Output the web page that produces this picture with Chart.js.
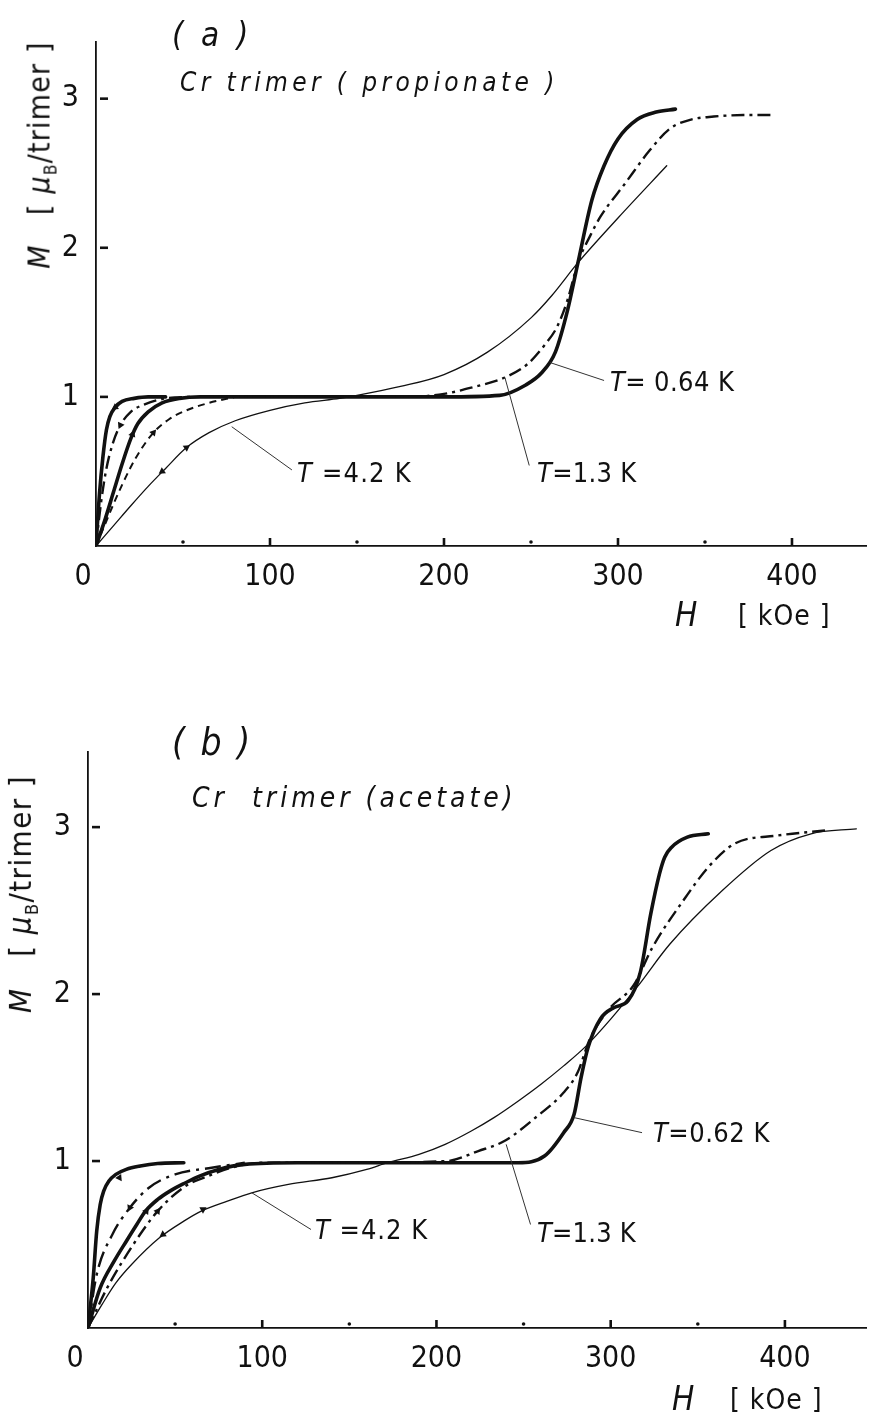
<!DOCTYPE html>
<html>
<head>
<meta charset="utf-8">
<script src="https://cdn.jsdelivr.net/npm/chart.js@4.4.1/dist/chart.umd.min.js"></script>
<style>
  body { margin: 0; background: #fff; }
  #page { position: relative; width: 871px; height: 1419px; overflow: hidden; color: #111;
          font-family: "Liberation Sans Narrow", "DejaVu Sans Condensed", sans-serif; }
  canvas { position: absolute; left: 0; }
  .lbl { position: absolute; white-space: nowrap; line-height: 1; }
  .it { font-style: italic; }
  .ytitle { position: absolute; white-space: nowrap; line-height: 1; transform: translate(-50%, -50%) rotate(-90deg); }
</style>
</head>
<body>
<div id="page">
  <canvas id="chartA" width="871" height="700" style="top:0"></canvas>
  <canvas id="chartB" width="871" height="719" style="top:700px"></canvas>

  <!-- panel (a) text -->
  <div class="lbl it" style="left:172px;top:18px;font-size:33px;letter-spacing:4px">( a )</div>
  <div class="lbl it" style="left:180px;top:69px;font-size:26px;letter-spacing:4.4px">Cr trimer ( propionate )</div>
  <div class="ytitle" style="left:42px;top:155px;font-size:30px;letter-spacing:1.2px"><i>M</i>&nbsp;&nbsp;&nbsp;[ <i>μ</i><sub style="font-size:17px">B</sub>/trimer ]</div>
  <div class="lbl" style="left:297px;top:459px;font-size:27px;letter-spacing:1.2px"><i>T</i> =4.2 K</div>
  <div class="lbl" style="left:537px;top:459px;font-size:27px;letter-spacing:0.3px"><i>T</i>=1.3 K</div>
  <div class="lbl" style="left:610px;top:368px;font-size:27px;letter-spacing:0.4px"><i>T</i>= 0.64 K</div>
  <div class="lbl it" style="left:675px;top:598px;font-size:33px">H</div>
  <div class="lbl" style="left:738px;top:602px;font-size:28px;letter-spacing:1px">[ kOe ]</div>

  <!-- panel (b) text -->
  <div class="lbl it" style="left:172px;top:724px;font-size:37px;letter-spacing:2.5px">( b )</div>
  <div class="lbl it" style="left:192px;top:784px;font-size:28px;letter-spacing:4px">Cr&nbsp; trimer (acetate)</div>
  <div class="ytitle" style="left:23px;top:894px;font-size:31px;letter-spacing:1.4px"><i>M</i>&nbsp;&nbsp;&nbsp;[ <i>μ</i><sub style="font-size:18px">B</sub>/trimer ]</div>
  <div class="lbl" style="left:315px;top:1216px;font-size:27px;letter-spacing:1px"><i>T</i> =4.2 K</div>
  <div class="lbl" style="left:537px;top:1219px;font-size:27px;letter-spacing:0.2px"><i>T</i>=1.3 K</div>
  <div class="lbl" style="left:653px;top:1119px;font-size:27px;letter-spacing:0.5px"><i>T</i>=0.62 K</div>
  <div class="lbl it" style="left:672px;top:1382px;font-size:33px">H</div>
  <div class="lbl" style="left:730px;top:1386px;font-size:28px;letter-spacing:1px">[ kOe ]</div>
</div>

<script>
// axis ticks
const xTicks = [0, 100, 200, 300, 400];
const xMinorTicks = [50, 150, 250, 350];
const yTicks = [1, 2, 3];

// ---- (a) Cr trimer (propionate) ----
// T = 0.64 K, field increasing (thick)
const aH064Up = [0, 5, 10, 15, 20, 24, 30, 38, 48, 60, 100, 150, 200, 232, 247, 256, 264, 271, 277, 285, 292, 300, 311, 322, 333];
const aM064Up = [0, 0.17, 0.36, 0.55, 0.72, 0.82, 0.9, 0.96, 0.99, 1.0, 1.0, 1.0, 1.0, 1.01, 1.08, 1.16, 1.3, 1.58, 1.9, 2.32, 2.55, 2.73, 2.86, 2.91, 2.93];
// T = 0.64 K, field decreasing
const aH064Down = [0, 2, 4, 6, 8, 11, 15, 22, 30, 40];
const aM064Down = [0, 0.35, 0.6, 0.78, 0.87, 0.93, 0.97, 0.99, 1.0, 1.0];
// T = 1.3 K
const aH13Up = [0, 5, 10, 15, 20, 26, 33, 42, 52, 65, 80];
const aM13Up = [0, 0.14, 0.28, 0.41, 0.53, 0.65, 0.76, 0.85, 0.91, 0.96, 1.0];
const aH13Down = [0, 3, 6, 10, 14, 20, 28, 40, 55];
const aM13Down = [0, 0.3, 0.52, 0.7, 0.81, 0.9, 0.95, 0.99, 1.0];
const aH13High = [60, 120, 180, 200, 215, 235, 248, 258, 265, 271, 277, 284, 290, 304, 318, 330, 342, 355, 372, 389];
const aM13High = [1.0, 1.0, 1.0, 1.02, 1.06, 1.13, 1.22, 1.35, 1.47, 1.65, 1.9, 2.08, 2.21, 2.43, 2.65, 2.8, 2.86, 2.88, 2.89, 2.89];
// T = 4.2 K
const aH42 = [0, 10, 20, 30, 40, 52, 65, 80, 100, 120, 140, 150, 175, 200, 225, 250, 262, 277, 300, 328];
const aM42 = [0, 0.135, 0.27, 0.4, 0.52, 0.66, 0.76, 0.84, 0.91, 0.96, 0.99, 1.01, 1.07, 1.15, 1.3, 1.53, 1.68, 1.9, 2.2, 2.55];
// sweep arrows
const aArrowH = [11, 21, 14, 33, 38, 52];
const aArrowM = [0.93, 0.75, 0.81, 0.76, 0.5, 0.66];
const aArrowRot = [235, 20, 205, 40, 235, 55];
// label leaders [H1, M1, H2, M2]
const aLeaders = [[78, 0.8, 112.6, 0.51], [235, 1.13, 249, 0.54], [261, 1.23, 292, 1.11]];

// ---- (b) Cr trimer (acetate) ----
const bH062Up = [0, 7, 15, 22, 28, 33, 40, 47, 56, 64, 75, 90, 120, 180, 247, 262, 273, 279, 283, 287, 294, 302, 310, 317, 323, 328, 331, 335, 344, 356];
const bM062Up = [0, 0.24, 0.4, 0.52, 0.62, 0.7, 0.77, 0.82, 0.87, 0.91, 0.95, 0.98, 0.99, 0.99, 0.99, 1.03, 1.17, 1.28, 1.5, 1.68, 1.85, 1.92, 1.96, 2.13, 2.48, 2.72, 2.82, 2.88, 2.94, 2.96];
const bH062Down = [0, 3, 5, 7, 9, 12, 16, 22, 30, 40, 55];
const bM062Down = [0, 0.3, 0.58, 0.74, 0.82, 0.88, 0.92, 0.95, 0.97, 0.985, 0.99];
const bH13Down = [0, 5, 14, 24, 35, 50, 71, 90];
const bM13Down = [0, 0.32, 0.56, 0.72, 0.84, 0.92, 0.96, 0.99];
const bH13Up = [0, 11, 26, 40, 56, 69, 82, 100, 150, 206, 224, 239, 258, 273, 281, 288, 299, 313, 324, 343, 356, 371, 396, 423];
const bM13Up = [0, 0.24, 0.5, 0.7, 0.85, 0.91, 0.96, 0.99, 0.99, 1.0, 1.06, 1.12, 1.27, 1.41, 1.53, 1.73, 1.91, 2.05, 2.28, 2.58, 2.76, 2.9, 2.95, 2.98];
const bH42 = [0, 8, 16, 25, 41, 55, 65, 80, 94, 115, 140, 160, 172, 190, 205, 220, 233, 247, 260, 273, 286, 300, 315, 334, 363, 392, 415, 441];
const bM42 = [0, 0.14, 0.27, 0.38, 0.54, 0.64, 0.7, 0.76, 0.81, 0.86, 0.9, 0.95, 0.99, 1.04, 1.1, 1.18, 1.26, 1.36, 1.46, 1.57, 1.69, 1.85, 2.04, 2.3, 2.61, 2.86, 2.96, 2.99];
const bArrowH = [18, 24, 33.5, 40, 43, 66];
const bArrowM = [0.9, 0.72, 0.7, 0.7, 0.56, 0.71];
const bArrowRot = [265, 205, 35, 35, 235, 60];
const bLeaders = [[94, 0.81, 128, 0.59], [240, 1.1, 254, 0.62], [279, 1.26, 318, 1.17]];

const INK = '#111';
const FONT = '"Liberation Sans Narrow", "DejaVu Sans Condensed", sans-serif';

const pts = (hs, ms) => hs.map((h, i) => ({ x: h, y: ms[i] }));

function curve(hs, ms, kind) {
  const ds = {
    data: pts(hs, ms), borderColor: INK, pointRadius: 0, fill: false,
    cubicInterpolationMode: 'monotone', borderCapStyle: 'round', borderJoinStyle: 'round'
  };
  if (kind === 'thick') { ds.borderWidth = 3.6; }
  if (kind === 'thin') { ds.borderWidth = 1.3; }
  if (kind === 'dashdot') { ds.borderWidth = 2.4; ds.borderDash = [13, 5, 3, 5]; ds.borderCapStyle = 'butt'; }
  if (kind === 'longdash') { ds.borderWidth = 2.4; ds.borderDash = [16, 6, 3, 6]; ds.borderCapStyle = 'butt'; }
  if (kind === 'dashed') { ds.borderWidth = 2; ds.borderDash = [7, 5]; ds.borderCapStyle = 'butt'; }
  return ds;
}

function arrows(hs, ms, rot) {
  return {
    data: pts(hs, ms), showLine: false, pointStyle: 'triangle', pointRadius: 4.2,
    pointRotation: rot, backgroundColor: INK, borderColor: INK, borderWidth: 0
  };
}

// tick marks inside the axes, minor dots, and label leader lines
const axisMarks = {
  id: 'axisMarks',
  afterDatasetsDraw(chart, args, opts) {
    const { ctx, scales: { x, y } } = chart;
    const x0 = x.getPixelForValue(0), y0 = y.getPixelForValue(0);
    ctx.save();
    ctx.strokeStyle = INK; ctx.fillStyle = INK;
    ctx.lineWidth = 2.6;
    xTicks.filter(v => v > 0).forEach(v => {
      const px = x.getPixelForValue(v);
      ctx.beginPath(); ctx.moveTo(px, y0); ctx.lineTo(px, y0 - 8); ctx.stroke();
    });
    xMinorTicks.forEach(v => {
      const px = x.getPixelForValue(v);
      ctx.beginPath(); ctx.arc(px, y0 - 4, 1.8, 0, Math.PI * 2); ctx.fill();
    });
    yTicks.forEach(v => {
      const py = y.getPixelForValue(v);
      ctx.beginPath(); ctx.moveTo(x0 + 4, py); ctx.lineTo(x0 + 12, py); ctx.stroke();
    });
    ctx.lineWidth = 1;
    ctx.strokeStyle = '#333';
    (opts.leaders || []).forEach(l => {
      ctx.beginPath();
      ctx.moveTo(x.getPixelForValue(l[0]), y.getPixelForValue(l[1]));
      ctx.lineTo(x.getPixelForValue(l[2]), y.getPixelForValue(l[3]));
      ctx.stroke();
    });
    ctx.restore();
  }
};

function makeChart(id, o) {
  return new Chart(document.getElementById(id), {
    type: 'line',
    data: { datasets: o.datasets },
    options: {
      responsive: false, animation: false, devicePixelRatio: 1,
      layout: { padding: { top: o.top, left: 0, right: 0, bottom: 0 } },
      plugins: { legend: { display: false }, tooltip: { enabled: false }, axisMarks: { leaders: o.leaders } },
      scales: {
        x: {
          type: 'linear', min: 0, max: o.xMax,
          afterFit: s => { s.height = o.xHeight; },
          afterBuildTicks: s => { s.ticks = xTicks.map(v => ({ value: v })); },
          grid: { display: false, drawTicks: false },
          border: { display: true, color: INK, width: 1.8 },
          ticks: { padding: 13, color: INK, font: { family: FONT, size: 30 },
                   callback: v => (v === 0 ? '0   ' : String(v)) }
        },
        y: {
          type: 'linear', min: 0, max: o.yMax,
          afterFit: s => { s.width = o.yWidth; },
          afterBuildTicks: s => { s.ticks = yTicks.map(v => ({ value: v })); },
          grid: { display: false, drawTicks: false },
          border: { display: true, color: INK, width: 1.8 },
          ticks: { padding: 17, color: INK, font: { family: FONT, size: 30 } }
        }
      }
    },
    plugins: [axisMarks]
  });
}

makeChart('chartA', {
  top: 42, xHeight: 700 - 546, yWidth: 96, xMax: 443, yMax: 3.38, leaders: aLeaders,
  datasets: [
    curve(aH42, aM42, 'thin'),
    curve(aH13Up, aM13Up, 'dashed'),
    curve(aH13Down, aM13Down, 'dashdot'),
    curve(aH13High, aM13High, 'dashdot'),
    curve(aH064Down, aM064Down, 'thick'),
    curve(aH064Up, aM064Up, 'thick'),
    arrows(aArrowH, aArrowM, aArrowRot)
  ]
});

makeChart('chartB', {
  top: 52, xHeight: 719 - 628, yWidth: 88, xMax: 447, yMax: 3.45, leaders: bLeaders,
  datasets: [
    curve(bH42, bM42, 'thin'),
    curve(bH13Down, bM13Down, 'longdash'),
    curve(bH13Up, bM13Up, 'dashdot'),
    curve(bH062Down, bM062Down, 'thick'),
    curve(bH062Up, bM062Up, 'thick'),
    arrows(bArrowH, bArrowM, bArrowRot)
  ]
});
</script>
</body>
</html>
